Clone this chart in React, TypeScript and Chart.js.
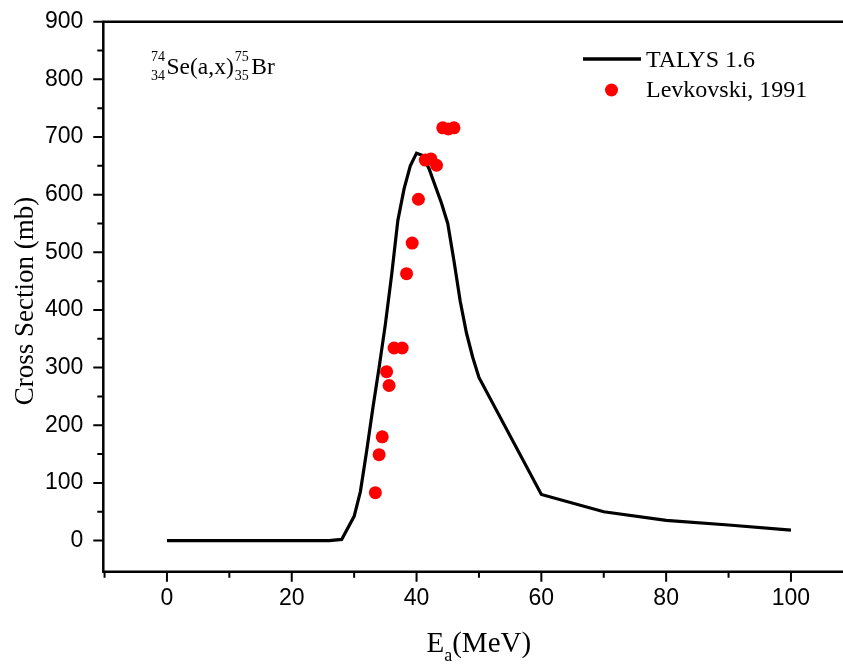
import React, { useEffect, useRef } from "react";
import { Chart, registerables } from "chart.js";
Chart.register(...registerables);

// TALYS 1.6 calculation
const talysEnergy = [0, 10, 20, 26, 28, 30, 31, 32, 33, 34, 35, 36, 37, 38, 39, 40, 41, 42, 43, 44, 45, 46, 47, 48, 49, 50, 60, 70, 80, 90, 100];
const talysXs = [0, 0, 0, 0, 2, 42, 85, 155, 230, 300, 375, 460, 555, 610, 650, 672, 668, 645, 615, 585, 550, 485, 415, 360, 318, 283, 80, 50, 35, 27, 18];

// Levkovski, 1991 experimental data
const levEnergy = [33.4, 34.0, 34.5, 35.2, 35.6, 36.4, 37.7, 38.4, 39.3, 40.3, 41.4, 42.3, 43.2, 44.2, 45.1, 46.0];
const levXs = [83, 149, 180, 293, 269, 334, 334, 463, 516, 592, 660, 662, 651, 716, 714, 716];

const xMajorTicks = [0, 20, 40, 60, 80, 100];
const xMinorTicks = [-10, 10, 30, 50, 70, 90];
const yMajorTicks = [0, 100, 200, 300, 400, 500, 600, 700, 800, 900];
const yMinorTicks = [50, 150, 250, 350, 450, 550, 650, 750, 850];

const SERIF = "'Liberation Serif', 'Times New Roman', serif";
const SANS = "'Liberation Sans', Arial, sans-serif";

const decorPlugin = {
  id: "decor",
  afterDraw(chart: any) {
    const ctx = chart.ctx;
    const { left, top, bottom } = chart.chartArea;
    const xs = chart.scales.x;
    const ys = chart.scales.y;
    ctx.save();
    ctx.strokeStyle = "#000";
    ctx.lineWidth = 2.5;
    ctx.lineCap = "butt";
    // axes
    ctx.beginPath();
    ctx.moveTo(left, top);
    ctx.lineTo(left, bottom + 1);
    ctx.moveTo(left - 1, bottom);
    ctx.lineTo(chart.width, bottom);
    ctx.moveTo(left - 1, top);
    ctx.lineTo(chart.width, top);
    ctx.stroke();
    // ticks
    ctx.lineWidth = 2;
    ctx.beginPath();
    xMajorTicks.forEach((v) => {
      const p = xs.getPixelForValue(v);
      ctx.moveTo(p, bottom);
      ctx.lineTo(p, bottom + 10);
    });
    xMinorTicks.forEach((v) => {
      const p = xs.getPixelForValue(v);
      ctx.moveTo(p, bottom);
      ctx.lineTo(p, bottom + 6);
    });
    yMajorTicks.forEach((v) => {
      const p = ys.getPixelForValue(v);
      ctx.moveTo(left, p);
      ctx.lineTo(left - 10, p);
    });
    yMinorTicks.forEach((v) => {
      const p = ys.getPixelForValue(v);
      ctx.moveTo(left, p);
      ctx.lineTo(left - 6, p);
    });
    ctx.stroke();

    ctx.fillStyle = "#000";
    ctx.textBaseline = "alphabetic";
    // Y title
    ctx.save();
    ctx.translate(33, 301);
    ctx.rotate(-Math.PI / 2);
    ctx.font = `27px ${SERIF}`;
    ctx.textAlign = "center";
    ctx.fillText("Cross Section (mb)", 0, 0);
    ctx.restore();

    // X title E_a(MeV)
    ctx.textAlign = "left";
    let x = 426.5;
    ctx.font = `29px ${SERIF}`;
    ctx.fillText("E", x, 652);
    x += ctx.measureText("E").width;
    ctx.font = `18px ${SERIF}`;
    ctx.fillText("a", x, 661);
    x += ctx.measureText("a").width;
    ctx.font = `29px ${SERIF}`;
    ctx.fillText("(MeV)", x, 652);

    // Reaction annotation
    const big = `23.5px ${SERIF}`;
    const small = `14px ${SERIF}`;
    x = 151;
    ctx.font = small;
    ctx.fillText("74", x, 61);
    ctx.fillText("34", x, 80);
    x += ctx.measureText("74").width + 1.5;
    ctx.font = big;
    ctx.fillText("Se(a,x)", x, 74);
    x += ctx.measureText("Se(a,x)").width + 1;
    ctx.font = small;
    ctx.fillText("75", x, 61);
    ctx.fillText("35", x, 80);
    x += ctx.measureText("75").width + 2.5;
    ctx.font = big;
    ctx.fillText("Br", x, 74);

    // Legend
    const leg = `24px ${SERIF}`;
    ctx.lineWidth = 3.5;
    ctx.beginPath();
    ctx.moveTo(583, 59);
    ctx.lineTo(641, 59);
    ctx.stroke();
    ctx.font = leg;
    ctx.fillText("TALYS 1.6", 646, 67);
    ctx.fillStyle = "#ff0000";
    ctx.beginPath();
    ctx.arc(611.5, 90, 6.5, 0, Math.PI * 2);
    ctx.fill();
    ctx.fillStyle = "#000";
    ctx.fillText("Levkovski, 1991", 646, 97);
    ctx.restore();
  },
};

export default function App() {
  const ref = useRef<HTMLCanvasElement>(null);
  useEffect(() => {
    if (!ref.current) return;
    const chart = new Chart(ref.current, {
      type: "line",
      data: {
        datasets: [
          {
            label: "Levkovski, 1991",
            data: levEnergy.map((e, i) => ({ x: e, y: levXs[i] })),
            showLine: false,
            pointRadius: 6.5,
            pointBackgroundColor: "#ff0000",
            pointBorderWidth: 0,
            pointBorderColor: "#ff0000",
            order: 0,
          },
          {
            label: "TALYS 1.6",
            data: talysEnergy.map((e, i) => ({ x: e, y: talysXs[i] })),
            borderColor: "#000",
            borderWidth: 3.2,
            pointRadius: 0,
            tension: 0,
            fill: false,
            order: 1,
          },
        ],
      },
      options: {
        animation: false,
        responsive: false,
        maintainAspectRatio: false,
        layout: { padding: { top: 21.7, left: 0, right: 0, bottom: 0 } },
        plugins: { legend: { display: false }, tooltip: { enabled: false } },
        scales: {
          x: {
            type: "linear",
            min: -10.2,
            max: 107.3,
            grid: { display: false, drawTicks: false },
            border: { display: false },
            afterBuildTicks: (s: any) => {
              s.ticks = xMajorTicks.map((v) => ({ value: v }));
            },
            afterFit: (s: any) => {
              s.height = 92.3;
              s.paddingLeft = 0;
              s.paddingRight = 0;
              s.paddingTop = 0;
              s.paddingBottom = 0;
            },
            ticks: {
              color: "#000",
              font: { family: SANS, size: 23 },
              padding: 13,
              maxRotation: 0,
            },
          },
          y: {
            type: "linear",
            min: -54,
            max: 900,
            grid: { display: false, drawTicks: false },
            border: { display: false },
            afterBuildTicks: (s: any) => {
              s.ticks = yMajorTicks.map((v) => ({ value: v }));
            },
            afterFit: (s: any) => {
              s.width = 103.3;
              s.paddingLeft = 0;
              s.paddingRight = 0;
              s.paddingTop = 0;
              s.paddingBottom = 0;
            },
            ticks: {
              color: "#000",
              font: { family: SANS, size: 23 },
              padding: 20,
            },
          },
        },
      },
      plugins: [decorPlugin],
    });
    return () => chart.destroy();
  }, []);
  return (
    <div style={{ position: "fixed", left: 0, top: 0, width: 843, height: 664, background: "#fff" }}>
      <canvas ref={ref} width={843} height={664} style={{ width: 843, height: 664, display: "block" }} />
    </div>
  );
}
